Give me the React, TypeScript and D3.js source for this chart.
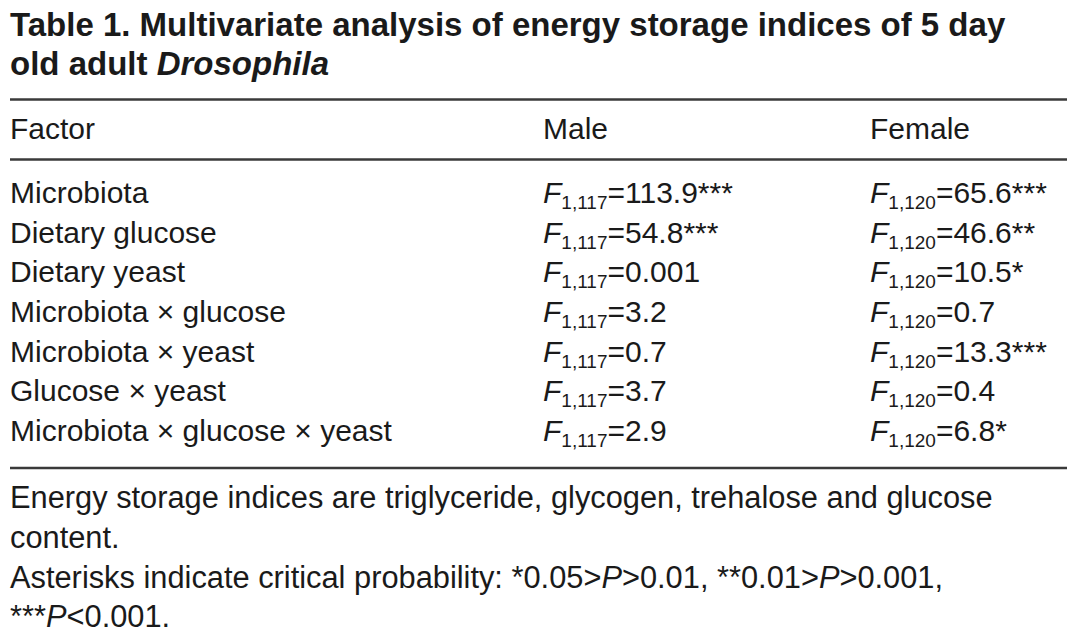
import React from "react";
import * as d3 from "d3";

const factors = [
  "Microbiota",
  "Dietary glucose",
  "Dietary yeast",
  "Microbiota × glucose",
  "Microbiota × yeast",
  "Glucose × yeast",
  "Microbiota × glucose × yeast",
];
const maleValues = ["113.9", "54.8", "0.001", "3.2", "0.7", "3.7", "2.9"];
const maleStars = ["***", "***", "", "", "", "", ""];
const femaleValues = ["65.6", "46.6", "10.5", "0.7", "13.3", "0.4", "6.8"];
const femaleStars = ["***", "**", "*", "", "***", "", "*"];
const columns = ["Factor", "Male", "Female"];
const maleDf = "1,117";
const femaleDf = "1,120";

const W = 1078;
const H = 640;
const font = "'Liberation Sans', Arial, Helvetica, sans-serif";
const ink = "#1a1a1a";
const rule = "#3a3a3a";

const App = () => {
  const x = d3.scaleOrdinal<string, number>().domain(columns).range([10, 543, 870]);
  const y = d3.scalePoint<string>().domain(factors).range([203, 441]);

  const cell = (col: string, f: string, val: string, stars: string, df: string) => (
    <text key={col + f} x={x(col)} y={y(f)} fontSize={30} fill={ink}>
      <tspan fontStyle="italic">F</tspan>
      <tspan fontSize={19} dy={6}>{df}</tspan>
      <tspan dy={-6}>={val}{stars}</tspan>
    </text>
  );

  return (
    <svg
      width={W}
      height={H}
      style={{ position: "absolute", left: 0, top: 0, background: "#fff" }}
      fontFamily={font}
    >
      <rect width={W} height={H} fill="#fff" />
      <text x={10} y={36} fontSize={33} fontWeight="bold" fill={ink}>
        Table 1. Multivariate analysis of energy storage indices of 5 day
      </text>
      <text x={10} y={75} fontSize={33} fontWeight="bold" fill={ink}>
        old adult <tspan fontStyle="italic">Drosophila</tspan>
      </text>

      <line x1={10} x2={1067} y1={99.5} y2={99.5} stroke={rule} strokeWidth={2.5} />
      {columns.map((c) => (
        <text key={c} x={x(c)} y={139} fontSize={30} fill={ink}>
          {c}
        </text>
      ))}
      <line x1={10} x2={1067} y1={159.5} y2={159.5} stroke={rule} strokeWidth={2.5} />

      {factors.map((f, i) => (
        <g key={f}>
          <text x={x("Factor")} y={y(f)} fontSize={30} fill={ink}>
            {f}
          </text>
          {cell("Male", f, maleValues[i], maleStars[i], maleDf)}
          {cell("Female", f, femaleValues[i], femaleStars[i], femaleDf)}
        </g>
      ))}

      <line x1={10} x2={1067} y1={468} y2={468} stroke={rule} strokeWidth={2.5} />

      <g fontSize={30.8} fill={ink}>
        <text x={10} y={508}>
          Energy storage indices are triglyceride, glycogen, trehalose and glucose
        </text>
        <text x={10} y={548}>content.</text>
        <text x={10} y={588}>
          Asterisks indicate critical probability: *0.05&gt;<tspan fontStyle="italic">P</tspan>
          &gt;0.01, **0.01&gt;<tspan fontStyle="italic">P</tspan>&gt;0.001,
        </text>
        <text x={10} y={627}>
          ***<tspan fontStyle="italic">P</tspan>&lt;0.001.
        </text>
      </g>
    </svg>
  );
};

export default App;
